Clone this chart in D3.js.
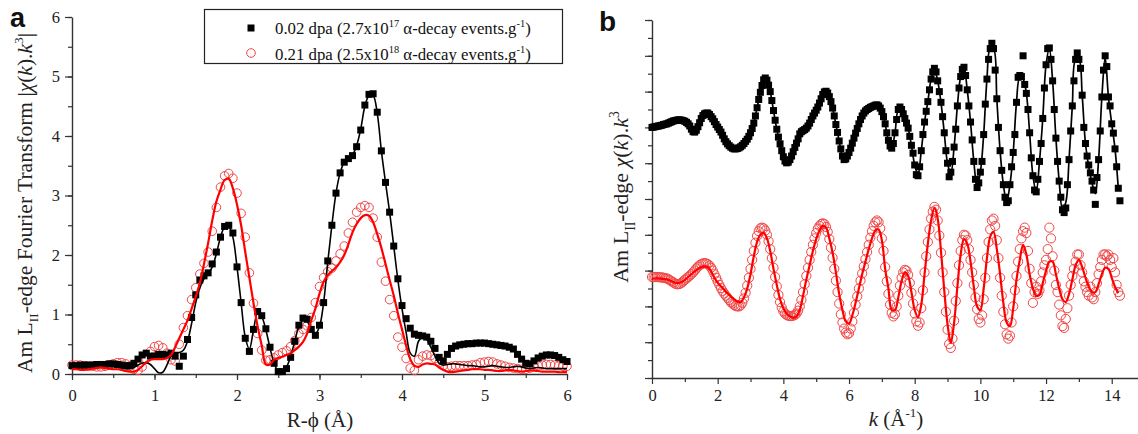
<!DOCTYPE html>
<html>
<head>
<meta charset="utf-8">
<script src="https://cdn.jsdelivr.net/npm/d3@7"></script>
<style>
body { margin: 0; background: #fff; }
svg { display: block; font-family: "Liberation Serif", "Times New Roman", serif; }
</style>
</head>
<body>
<div id="chart-area"></div>
<script>
// ---- panel a : |chi(k).k^3| Fourier transform, R from 0 to 6 every 0.05 ----
var rStep = 0.05
var ftBlackData = [
 0.14,0.14,0.15,0.15,0.15,0.15,0.16,0.16,0.16,0.17,
 0.17,0.16,0.15,0.14,0.14,0.18,0.25,0.32,0.35,0.30,
 0.30,0.33,0.33,0.32,0.35,0.30,0.13,0.30,0.58,0.95,
 1.33,1.58,1.65,1.70,1.85,2.05,2.30,2.48,2.50,2.37,
 1.80,1.20,0.60,0.38,0.75,1.05,0.98,0.76,0.45,0.18,
 0.04,0.04,0.09,0.28,0.55,0.82,0.94,0.92,0.75,0.65,
 0.82,1.20,1.90,2.50,3.04,3.38,3.56,3.62,3.67,3.82,
 4.10,4.52,4.70,4.71,4.40,3.75,3.22,2.72,2.15,1.60,
 1.15,0.93,0.77,0.67,0.65,0.64,0.62,0.55,0.43,0.28,
 0.22,0.33,0.43,0.47,0.49,0.50,0.51,0.51,0.52,0.52,
 0.52,0.51,0.50,0.49,0.48,0.47,0.45,0.42,0.33,0.25,
 0.18,0.17,0.22,0.27,0.30,0.32,0.32,0.31,0.28,0.24,
 0.21]
var ftBlackFit = [
 0.10,0.10,0.11,0.11,0.12,0.12,0.12,0.12,0.13,0.14,
 0.14,0.12,0.10,0.09,0.09,0.11,0.15,0.18,0.19,0.16,
 0.09,0.02,0.03,0.15,0.30,0.36,0.36,0.40,0.55,0.85,
 1.20,1.45,1.60,1.68,1.80,2.02,2.30,2.47,2.48,2.30,
 1.80,1.20,0.62,0.42,0.74,1.02,0.96,0.74,0.44,0.18,
 0.05,0.06,0.12,0.30,0.55,0.80,0.90,0.88,0.76,0.68,
 0.80,1.20,1.88,2.50,3.04,3.38,3.56,3.62,3.68,3.84,
 4.12,4.50,4.68,4.68,4.38,3.75,3.22,2.72,2.15,1.58,
 1.10,0.70,0.35,0.30,0.55,0.62,0.58,0.45,0.30,0.18,
 0.15,0.16,0.17,0.17,0.16,0.15,0.14,0.14,0.13,0.12,
 0.12,0.13,0.14,0.13,0.12,0.11,0.11,0.12,0.13,0.12,
 0.10,0.09,0.10,0.11,0.10,0.09,0.09,0.09,0.09,0.09,
 0.09]
var ftRedData = [
 0.15,0.15,0.15,0.14,0.13,0.13,0.12,0.12,0.13,0.15,
 0.17,0.19,0.19,0.17,0.13,0.08,0.06,0.12,0.25,0.38,
 0.46,0.48,0.44,0.35,0.24,0.22,0.50,0.78,0.98,1.25,
 1.45,1.68,1.86,2.05,2.40,2.80,3.14,3.33,3.37,3.29,
 3.04,2.70,2.30,1.70,1.19,0.68,0.40,0.23,0.24,0.27,
 0.32,0.36,0.39,0.46,0.56,0.68,0.75,0.81,0.95,1.20,
 1.47,1.62,1.72,1.78,1.90,2.02,2.15,2.37,2.55,2.72,
 2.80,2.83,2.80,2.62,2.30,1.88,1.56,1.25,0.98,0.62,
 0.45,0.26,0.10,0.06,0.24,0.30,0.32,0.31,0.26,0.19,
 0.14,0.12,0.13,0.14,0.14,0.14,0.14,0.15,0.16,0.19,
 0.20,0.21,0.20,0.17,0.15,0.13,0.11,0.10,0.09,0.08,
 0.08,0.10,0.12,0.14,0.15,0.16,0.16,0.15,0.14,0.13,
 0.13]
var ftRedFit = [
 0.08,0.08,0.07,0.07,0.08,0.09,0.10,0.11,0.10,0.09,
 0.08,0.08,0.07,0.05,0.04,0.04,0.07,0.13,0.20,0.24,
 0.25,0.25,0.25,0.27,0.32,0.45,0.60,0.75,0.90,1.10,
 1.30,1.53,1.85,2.20,2.58,2.90,3.10,3.26,3.28,3.12,
 2.85,2.50,2.05,1.62,1.19,0.80,0.48,0.16,0.16,0.24,
 0.27,0.29,0.32,0.35,0.40,0.46,0.54,0.68,0.90,1.10,
 1.35,1.55,1.66,1.73,1.79,1.88,2.00,2.18,2.38,2.52,
 2.62,2.67,2.66,2.55,2.35,2.12,1.85,1.58,1.32,1.02,
 0.75,0.48,0.25,0.14,0.12,0.16,0.18,0.17,0.16,0.11,
 0.07,0.04,0.03,0.04,0.05,0.06,0.07,0.08,0.08,0.08,
 0.07,0.07,0.06,0.05,0.05,0.06,0.07,0.06,0.05,0.04,
 0.05,0.06,0.06,0.05,0.04,0.04,0.04,0.04,0.03,0.03,
 0.03]

// ---- panel b : chi(k).k^3 (offset, arbitrary units), data every 0.05, fits every 0.1 ----
var kStepData = 0.05
var kStepFit = 0.1
var chiBlackData = [
 7.00,7.01,7.02,7.03,7.04,7.05,7.06,7.08,7.09,7.10,7.12,7.14,7.16,7.18,7.19,7.20,7.21,7.21,7.20,7.19,
 7.17,7.14,7.10,7.04,6.95,6.88,6.87,6.92,7.02,7.13,7.25,7.33,7.38,7.40,7.40,7.36,7.30,7.24,7.16,7.08,
 7.01,6.94,6.87,6.78,6.68,6.60,6.54,6.49,6.45,6.42,6.40,6.40,6.41,6.43,6.46,6.50,6.55,6.61,6.67,6.75,
 6.85,6.97,7.12,7.32,7.55,7.78,7.98,8.17,8.33,8.38,8.32,8.18,8.00,7.75,7.47,7.20,6.95,6.73,6.54,6.35,
 6.18,6.06,6.01,6.03,6.10,6.20,6.32,6.44,6.56,6.68,6.82,6.88,6.91,6.94,6.98,7.04,7.12,7.22,7.32,7.40,
 7.48,7.57,7.68,7.80,7.92,7.99,8.01,7.96,7.86,7.72,7.54,7.32,7.08,6.86,6.62,6.40,6.20,6.10,6.12,6.20,
 6.30,6.42,6.56,6.70,6.84,6.97,7.10,7.22,7.32,7.40,7.46,7.50,7.53,7.56,7.58,7.60,7.62,7.63,7.60,7.54,
 7.44,7.30,7.10,6.85,6.64,6.48,6.42,6.55,6.85,7.22,7.50,7.57,7.50,7.38,7.25,7.12,6.98,6.75,6.50,6.28,
 5.95,5.68,5.65,5.90,6.35,6.80,7.15,7.45,7.72,8.05,8.35,8.55,8.65,8.55,8.30,8.00,7.70,7.30,6.85,6.35,
 6.00,5.62,5.75,6.05,6.45,6.95,7.60,8.10,8.42,8.62,8.68,8.45,8.05,7.60,7.15,6.65,6.05,5.55,5.32,5.45,
 5.75,6.05,6.80,7.65,8.35,8.90,9.20,9.35,9.20,8.60,7.80,7.00,6.35,5.80,5.40,5.05,4.90,4.95,5.40,5.90,
 6.30,6.80,7.70,8.40,8.45,8.42,9.00,8.20,7.95,7.50,6.85,6.15,5.65,5.25,5.20,5.55,6.05,6.55,7.25,8.10,
 8.75,9.20,9.22,8.90,8.30,7.50,6.70,6.05,5.50,5.05,4.70,4.62,4.75,5.40,6.10,6.90,7.60,8.30,8.90,9.08,
 8.90,8.65,7.90,7.00,6.55,6.20,5.95,5.73,5.50,5.25,4.85,5.60,6.10,6.90,7.85,8.60,9.00,8.70,7.85,7.60,
 7.10,6.84,6.40,5.90,5.30,4.95]
var chiBlackFit = [
 7.00,7.02,7.04,7.06,7.09,7.12,7.16,7.19,7.21,7.20,
 7.17,7.10,6.96,6.88,7.02,7.24,7.37,7.39,7.30,7.16,
 7.01,6.87,6.68,6.54,6.45,6.40,6.41,6.46,6.55,6.67,
 6.85,7.12,7.55,7.98,8.32,8.32,8.00,7.47,6.95,6.54,
 6.18,6.01,6.10,6.32,6.56,6.82,6.91,6.98,7.12,7.32,
 7.48,7.68,7.92,8.00,7.86,7.54,7.08,6.62,6.20,6.12,
 6.30,6.56,6.84,7.10,7.32,7.46,7.53,7.58,7.62,7.60,
 7.44,7.10,6.64,6.45,6.85,7.48,7.50,7.25,6.98,6.50,
 5.95,5.68,6.35,7.15,7.72,8.35,8.62,8.30,7.70,6.85,
 6.00,5.72,6.45,7.60,8.42,8.66,8.05,7.15,6.05,5.35,
 5.75,6.80,8.35,9.20,9.20,7.80,6.35,5.40,4.92,5.40,
 6.30,7.70,8.40,8.35,7.95,6.85,5.65,5.20,6.05,7.25,
 8.75,9.20,8.30,6.70,5.50,4.72,4.90,6.10,7.60,8.90,
 8.90,7.90,6.55,5.90,5.45,5.15,6.10,7.85,8.95,7.85,
 7.10,6.40,5.30]
var chiRedData = [
 2.82,2.82,2.82,2.82,2.82,2.81,2.81,2.80,2.79,2.78,2.76,2.73,2.70,2.67,2.64,2.62,2.62,2.63,2.66,2.70,
 2.74,2.78,2.82,2.86,2.90,2.95,3.00,3.06,3.11,3.15,3.18,3.20,3.21,3.20,3.18,3.14,3.08,3.00,2.90,2.80,
 2.70,2.60,2.51,2.43,2.36,2.30,2.24,2.18,2.12,2.08,2.04,2.01,2.00,2.00,2.03,2.10,2.22,2.38,2.58,2.80,
 3.05,3.30,3.55,3.78,3.97,4.10,4.18,4.20,4.18,4.12,4.00,3.82,3.60,3.35,3.08,2.82,2.56,2.32,2.12,1.97,
 1.86,1.80,1.76,1.74,1.73,1.73,1.74,1.76,1.80,1.88,2.00,2.18,2.40,2.62,2.85,3.08,3.30,3.52,3.72,3.90,
 4.05,4.17,4.25,4.30,4.32,4.30,4.22,4.08,3.88,3.64,3.36,3.05,2.72,2.40,2.08,1.78,1.55,1.38,1.27,1.22,
 1.25,1.38,1.58,1.82,2.05,2.28,2.50,2.72,2.92,3.12,3.32,3.52,3.72,3.92,4.10,4.25,4.35,4.40,4.35,4.18,
 3.90,3.55,3.10,2.70,2.35,2.05,1.82,1.72,1.78,2.00,2.30,2.58,2.80,2.95,3.02,3.00,2.88,2.66,2.38,2.08,
 1.80,1.58,1.46,1.55,1.95,2.45,2.95,3.40,3.80,4.15,4.45,4.65,4.78,4.70,4.40,3.98,3.50,2.95,2.40,1.85,
 1.35,0.95,0.84,1.10,1.60,2.15,2.65,3.15,3.55,3.85,4.00,3.98,3.85,3.60,3.30,2.95,2.60,2.25,1.92,1.65,
 1.55,1.75,2.20,2.80,3.35,3.80,4.15,4.40,4.45,4.25,3.85,3.35,2.80,2.30,1.85,1.50,1.22,1.10,1.18,1.55,
 2.00,2.45,2.85,3.25,3.60,3.90,4.10,4.20,4.05,3.55,3.05,2.65,2.10,2.40,2.55,2.35,2.45,2.70,2.95,3.15,
 3.30,3.60,4.20,3.90,3.40,3.00,2.60,2.40,2.05,1.75,1.45,1.40,1.65,1.95,2.30,2.60,2.85,3.05,3.25,3.45,
 3.45,3.15,2.95,2.70,2.55,2.40,2.30,2.55,2.25,2.20,2.40,2.65,2.90,3.10,3.30,3.45,3.45,3.40,3.45,3.30,
 3.10,3.35,2.95,2.60,2.40,2.30]
var chiRedFit = [
 2.78,2.78,2.78,2.77,2.76,2.74,2.70,2.66,2.65,2.68,
 2.74,2.82,2.90,2.98,3.05,3.10,3.12,3.10,2.98,2.80,
 2.66,2.56,2.46,2.36,2.28,2.20,2.14,2.12,2.25,2.50,
 2.90,3.40,3.80,4.00,4.05,3.90,3.55,3.05,2.60,2.20,
 1.95,1.80,1.72,1.68,1.72,1.90,2.30,2.75,3.15,3.55,
 3.88,4.12,4.25,4.20,3.90,3.50,2.95,2.35,1.90,1.58,
 1.52,1.75,2.10,2.50,2.90,3.25,3.60,3.90,4.12,4.15,
 3.85,3.05,2.50,1.90,1.90,2.25,2.70,2.95,2.85,2.40,
 1.90,1.70,2.05,2.90,3.75,4.40,4.75,4.45,3.55,2.45,
 1.50,0.98,1.55,2.55,3.45,3.88,3.75,3.25,2.55,2.00,
 1.90,2.50,3.35,3.95,4.08,3.60,2.90,2.10,1.55,1.45,
 1.95,2.75,3.30,3.72,3.45,2.90,2.50,2.30,2.32,2.65,
 3.00,3.25,3.25,2.90,2.50,2.20,2.12,2.35,2.75,3.15,
 3.30,3.10,2.80,2.55,2.40,2.40,2.62,2.90,3.08,3.05,
 2.80,2.55,2.37]

var xTicksA = [0, 1, 2, 3, 4, 5, 6]
var yTicksA = [0, 1, 2, 3, 4, 5, 6]
var xTicksB = [0, 2, 4, 6, 8, 10, 12, 14]
var legendLabels = [
    [["0.02 dpa (2.7x10"], ["17", "sup"], [" \u03b1-decay events.g"], ["-1", "sup"], [")"]],
    [["0.21 dpa (2.5x10"], ["18", "sup"], [" \u03b1-decay events.g"], ["-1", "sup"], [")"]]
]

var blackCol = "#000"
var redCol = "#ff0000"
var circleCol = "#f04646"

var svg = d3.select("#chart-area").append("svg")
    .attr("width", 1138)
    .attr("height", 434)

svg.append("rect").attr("width", 1138).attr("height", 434).attr("fill", "#fff")

// text with sub / sup / italic pieces
function richText(sel, parts, fs) {
    var shift = 0
    parts.forEach(function (p) {
        var kind = p[1] || ""
        var small = kind == "sup" || kind == "sub"
        var target = kind == "sup" ? -0.42 * fs : (kind == "sub" ? 0.3 * fs : 0)
        var t = sel.append("tspan")
            .attr("dy", target - shift)
            .attr("font-size", small ? fs * 0.62 : fs)
            .text(p[0])
        if (kind == "it") t.attr("font-style", "italic")
        shift = target
    })
}

function toPoints(values, step) {
    return values.map(function (v, i) { return [i * step, v] })
}

function styleAxis(g) {
    g.selectAll("path.domain").attr("stroke", "#333").attr("stroke-width", 1.4)
    g.selectAll(".tick line").attr("stroke", "#333").attr("stroke-width", 1.2)
    g.selectAll(".tick text").attr("font-family", "Liberation Serif").attr("font-size", 16.5).attr("fill", "#222")
}

function halves(a, b) {
    var out = []
    for (var v = a; v <= b + 1e-9; v += 0.5) out.push(v)
    return out
}

// ================= panel a =================
var xA = d3.scaleLinear().domain([0, 6]).range([72, 567])
var yA = d3.scaleLinear().domain([0, 6]).range([374, 17])

var gA = svg.append("g")

gA.append("g").attr("transform", "translate(0,374)")
    .call(d3.axisBottom(xA).tickValues(halves(0, 6)).tickSize(4).tickSizeOuter(0).tickFormat(""))
    .call(function (g) { g.select(".domain").remove() })
    .call(styleAxis)
gA.append("g").attr("transform", "translate(0,374)")
    .call(d3.axisBottom(xA).tickValues(xTicksA).tickSize(6).tickSizeOuter(0).tickPadding(9).tickFormat(d3.format("d")))
    .call(styleAxis)
gA.append("g").attr("transform", "translate(72,0)")
    .call(d3.axisLeft(yA).tickValues(halves(0, 6)).tickSize(4).tickSizeOuter(0).tickFormat(""))
    .call(function (g) { g.select(".domain").remove() })
    .call(styleAxis)
gA.append("g").attr("transform", "translate(72,0)")
    .call(d3.axisLeft(yA).tickValues(yTicksA).tickSize(7).tickSizeOuter(0).tickPadding(5).tickFormat(d3.format("d")))
    .call(styleAxis)

var lineA = d3.line()
    .x(function (d) { return xA(d[0]) })
    .y(function (d) { return yA(d[1]) })
    .curve(d3.curveCatmullRom.alpha(0.5))

gA.append("g").selectAll("circle")
    .data(toPoints(ftRedData, rStep))
    .enter().append("circle")
    .attr("cx", function (d) { return xA(d[0]) })
    .attr("cy", function (d) { return yA(d[1]) })
    .attr("r", 4.3)
    .attr("fill", "none")
    .attr("stroke", circleCol)
    .attr("stroke-width", 1)

gA.append("g").selectAll("rect")
    .data(toPoints(ftBlackData, rStep))
    .enter().append("rect")
    .attr("x", function (d) { return xA(d[0]) - 3.5 })
    .attr("y", function (d) { return yA(d[1]) - 3.5 })
    .attr("width", 7)
    .attr("height", 7)
    .attr("fill", blackCol)

gA.append("path").datum(toPoints(ftBlackFit, rStep))
    .attr("d", lineA).attr("fill", "none").attr("stroke", blackCol).attr("stroke-width", 1.6)
gA.append("path").datum(toPoints(ftRedFit, rStep))
    .attr("d", lineA).attr("fill", "none").attr("stroke", redCol).attr("stroke-width", 2.2)

// legend
var leg = gA.append("g")
leg.append("rect").attr("x", 204.5).attr("y", 9.5).attr("width", 358).attr("height", 54)
    .attr("fill", "#fff").attr("stroke", "#222").attr("stroke-width", 1.2)
leg.append("rect").attr("x", 247.5).attr("y", 24.5).attr("width", 7).attr("height", 7).attr("fill", blackCol)
leg.append("circle").attr("cx", 251).attr("cy", 53).attr("r", 4.3)
    .attr("fill", "none").attr("stroke", circleCol).attr("stroke-width", 1)
legendLabels.forEach(function (parts, i) {
    var t = leg.append("text").attr("x", 275).attr("y", i == 0 ? 34 : 60).attr("fill", "#111")
    richText(t, parts, 16.8)
})

// axis titles
var xtA = gA.append("text").attr("x", 320).attr("y", 427).attr("text-anchor", "middle").attr("fill", "#222")
richText(xtA, [["R-\u03d5 (\u00c5)"]], 21)

var ytA = gA.append("text").attr("transform", "translate(32,203) rotate(-90)")
    .attr("text-anchor", "middle").attr("fill", "#222")
richText(ytA, [["Am L"], ["II", "sub"], ["-edge Fourier Transform |"], ["\u03c7", "it"], ["("], ["k", "it"], [")."], ["k", "it"], ["3", "sup"], ["|"]], 21.5)

svg.append("text").attr("x", 10).attr("y", 27)
    .attr("font-family", "Liberation Sans, Arial, sans-serif").attr("font-weight", "bold")
    .attr("font-size", 27).attr("fill", "#111").text("a")

// ================= panel b =================
var xB = d3.scaleLinear().domain([0, 14.8]).range([652, 1138])
var yB = d3.scaleLinear().domain([0, 10]).range([378, 20])

var gB = svg.append("g")

var oddK = []
for (var k = 1; k <= 13; k += 2) oddK.push(k)

gB.append("g").attr("transform", "translate(0,378)")
    .call(d3.axisBottom(xB).tickValues(oddK).tickSize(4).tickSizeOuter(0).tickFormat(""))
    .call(function (g) { g.select(".domain").remove() })
    .call(styleAxis)
gB.append("g").attr("transform", "translate(0,378)")
    .call(d3.axisBottom(xB).tickValues(xTicksB).tickSize(6).tickSizeOuter(0).tickPadding(5).tickFormat(d3.format("d")))
    .call(styleAxis)
gB.append("g").attr("transform", "translate(652,0)")
    .call(d3.axisLeft(yB).tickValues(halves(0, 10)).tickSize(4).tickSizeOuter(0).tickFormat(""))
    .call(function (g) { g.select(".domain").remove() })
    .call(styleAxis)
gB.append("g").attr("transform", "translate(652,0)")
    .call(d3.axisLeft(yB).tickValues(d3.range(0, 11)).tickSize(7).tickSizeOuter(0).tickFormat(""))
    .call(styleAxis)

var lineB = d3.line()
    .x(function (d) { return xB(d[0]) })
    .y(function (d) { return yB(d[1]) })
    .curve(d3.curveCatmullRom.alpha(0.5))

gB.append("g").selectAll("rect")
    .data(toPoints(chiBlackData, kStepData))
    .enter().append("rect")
    .attr("x", function (d) { return xB(d[0]) - 3.5 })
    .attr("y", function (d) { return yB(d[1]) - 3.5 })
    .attr("width", 7)
    .attr("height", 7)
    .attr("fill", blackCol)
gB.append("path").datum(toPoints(chiBlackFit, kStepFit))
    .attr("d", lineB).attr("fill", "none").attr("stroke", blackCol).attr("stroke-width", 1.7)

gB.append("g").selectAll("circle")
    .data(toPoints(chiRedData, kStepData))
    .enter().append("circle")
    .attr("cx", function (d) { return xB(d[0]) })
    .attr("cy", function (d) { return yB(d[1]) })
    .attr("r", 4.6)
    .attr("fill", "none")
    .attr("stroke", circleCol)
    .attr("stroke-width", 1)
gB.append("path").datum(toPoints(chiRedFit, kStepFit))
    .attr("d", lineB).attr("fill", "none").attr("stroke", redCol).attr("stroke-width", 2.2)

var xtB = gB.append("text").attr("x", 896).attr("y", 426).attr("text-anchor", "middle").attr("fill", "#222")
richText(xtB, [["k", "it"], [" (\u00c5"], ["-1", "sup"], [")"]], 21)

var ytB = gB.append("text").attr("transform", "translate(628,197) rotate(-90)")
    .attr("text-anchor", "middle").attr("fill", "#222")
richText(ytB, [["Am L"], ["II", "sub"], ["-edge "], ["\u03c7", "it"], ["("], ["k", "it"], [")."], ["k", "it"], ["3", "sup"]], 22)

svg.append("text").attr("x", 599).attr("y", 31)
    .attr("font-family", "Liberation Sans, Arial, sans-serif").attr("font-weight", "bold")
    .attr("font-size", 28).attr("fill", "#111").text("b")
</script>
</body>
</html>
